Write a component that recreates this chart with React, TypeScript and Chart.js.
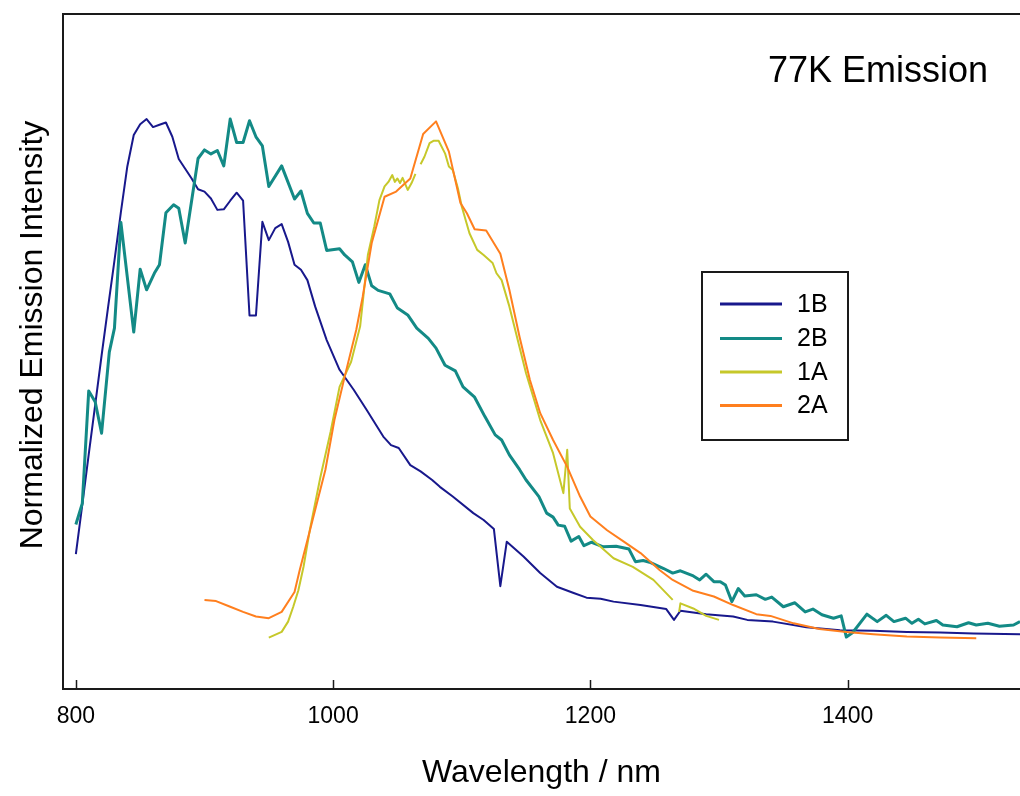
import { useEffect, useRef } from "react";
import { Chart, registerables } from "chart.js";

Chart.register(...registerables);

// ---------- data ----------
const xTickValues = [800, 1000, 1200, 1400];
const seriesNames = ["1B", "2B", "1A", "2A"];
const seriesColors = ["#18188c", "#138a86", "#c6c82a", "#ff7f1e"];
const chartTitle = "77K Emission";
const xTitle = "Wavelength / nm";
const yTitle = "Normalized Emission Intensity";

const b1Nm = [800, 805, 810, 815, 820, 825, 830, 835, 840, 845, 850, 855, 860, 865, 870, 875, 880, 885, 890, 895, 900, 905, 910, 915, 920, 925, 930, 935, 940, 945, 950, 955, 960, 965, 970, 975, 980, 986, 995, 1005, 1016, 1026, 1039, 1045, 1051, 1060, 1068, 1077, 1083, 1093, 1109, 1117, 1125, 1130, 1135, 1148, 1161, 1174, 1187, 1197, 1208, 1218, 1239, 1259, 1265, 1270, 1290, 1311, 1322, 1342, 1368, 1394, 1420, 1446, 1472, 1498, 1534];
const b1Val = [0.236, 0.323, 0.411, 0.497, 0.584, 0.668, 0.75, 0.835, 0.915, 0.97, 0.989, 0.998, 0.984, 0.988, 0.992, 0.967, 0.928, 0.911, 0.894, 0.875, 0.871, 0.859, 0.839, 0.84, 0.855, 0.869, 0.855, 0.654, 0.654, 0.818, 0.786, 0.807, 0.814, 0.783, 0.743, 0.734, 0.716, 0.67, 0.611, 0.559, 0.524, 0.489, 0.442, 0.427, 0.422, 0.392, 0.381, 0.366, 0.354, 0.337, 0.308, 0.296, 0.28, 0.18, 0.258, 0.232, 0.203, 0.179, 0.168, 0.16, 0.158, 0.153, 0.147, 0.14, 0.121, 0.137, 0.131, 0.127, 0.121, 0.118, 0.108, 0.103, 0.102, 0.1, 0.099, 0.097, 0.096];

const b2Nm = [800, 805, 810, 815, 820, 826, 830, 835, 845, 850, 855, 861, 865, 870, 876, 880, 885, 895, 900, 905, 910, 915, 920, 925, 930, 935, 940, 945, 950, 960, 970, 975, 980, 985, 990, 995, 1005, 1009, 1015, 1020, 1025, 1030, 1035, 1044, 1050, 1058, 1065, 1074, 1080, 1087, 1095, 1101, 1110, 1118, 1126, 1131, 1137, 1145, 1150, 1160, 1166, 1171, 1175, 1180, 1185, 1191, 1195, 1201, 1210, 1220, 1230, 1235, 1241, 1246, 1257, 1264, 1270, 1280, 1285, 1290, 1296, 1301, 1305, 1310, 1315, 1320, 1329, 1336, 1341, 1350, 1359, 1367, 1373, 1380, 1389, 1395, 1399, 1404, 1415, 1423, 1430, 1436, 1445, 1450, 1455, 1460, 1469, 1474, 1485, 1494, 1500, 1509, 1518, 1529, 1534];
const b2Val = [0.288, 0.325, 0.522, 0.503, 0.448, 0.59, 0.632, 0.817, 0.625, 0.735, 0.699, 0.728, 0.743, 0.834, 0.848, 0.842, 0.781, 0.929, 0.944, 0.937, 0.943, 0.916, 0.998, 0.957, 0.957, 0.995, 0.967, 0.951, 0.88, 0.916, 0.858, 0.872, 0.833, 0.816, 0.816, 0.768, 0.771, 0.76, 0.748, 0.712, 0.743, 0.706, 0.698, 0.692, 0.667, 0.655, 0.632, 0.614, 0.597, 0.567, 0.557, 0.529, 0.511, 0.477, 0.445, 0.436, 0.41, 0.384, 0.366, 0.337, 0.308, 0.301, 0.287, 0.285, 0.259, 0.267, 0.251, 0.257, 0.249, 0.25, 0.245, 0.223, 0.225, 0.222, 0.211, 0.203, 0.207, 0.198, 0.191, 0.201, 0.188, 0.188, 0.182, 0.153, 0.176, 0.163, 0.165, 0.157, 0.161, 0.144, 0.151, 0.135, 0.14, 0.13, 0.124, 0.128, 0.091, 0.099, 0.131, 0.118, 0.129, 0.118, 0.124, 0.115, 0.122, 0.114, 0.12, 0.112, 0.109, 0.116, 0.112, 0.115, 0.11, 0.112, 0.118];

const a1Nm = [950, 960, 965, 969, 973, 977, 982, 990, 998, 1005, 1014, 1021, 1027, 1032, 1036, 1040, 1043, 1046, 1048, 1050, 1052, 1054, 1058, 1061, 1064, 1066, 1068, 1071, 1075, 1078, 1082, 1087, 1090, 1093, 1097, 1100, 1106, 1112, 1117, 1124, 1127, 1131, 1137, 1150, 1161, 1171, 1179, 1182, 1184, 1192, 1202, 1218, 1233, 1249, 1264, 1267, 1269, 1270, 1280, 1290, 1300];
const a1Val = [0.09, 0.1, 0.118, 0.144, 0.173, 0.214, 0.28, 0.37, 0.45, 0.529, 0.573, 0.635, 0.76, 0.81, 0.856, 0.88, 0.888, 0.9, 0.888, 0.894, 0.886, 0.895, 0.874, 0.886, 0.902, null, 0.919, 0.932, 0.956, 0.96, 0.96, 0.938, 0.915, 0.909, 0.877, 0.845, 0.798, 0.769, 0.76, 0.746, 0.728, 0.716, 0.67, 0.553, 0.471, 0.413, 0.343, 0.419, 0.316, 0.284, 0.261, 0.229, 0.214, 0.191, 0.156, null, 0.135, 0.15, 0.141, 0.128, 0.121];

const a2Nm = [900, 909, 920, 930, 940, 950, 960, 970, 974, 982, 988, 994, 1001, 1009, 1018, 1023, 1030, 1040, 1049, 1060, 1070, 1080, 1090, 1099, 1104, 1110, 1119, 1130, 1137, 1145, 1153, 1161, 1171, 1182, 1192, 1200, 1213, 1226, 1239, 1254, 1264, 1280, 1296, 1311, 1329, 1340, 1358, 1378, 1399, 1420, 1446, 1472, 1500];
const a2Val = [0.156, 0.154, 0.144, 0.135, 0.127, 0.124, 0.135, 0.17, 0.208, 0.278, 0.331, 0.384, 0.471, 0.547, 0.629, 0.687, 0.781, 0.862, 0.871, 0.894, 0.972, 0.994, 0.941, 0.851, 0.833, 0.805, 0.803, 0.762, 0.699, 0.616, 0.541, 0.483, 0.436, 0.389, 0.337, 0.302, 0.278, 0.258, 0.238, 0.208, 0.191, 0.172, 0.162, 0.147, 0.131, 0.128, 0.115, 0.105, 0.1, 0.096, 0.092, 0.09, 0.089];

const xMin = 790;
const xMax = 1534;
const yMin = 0;
const yMax = 1.182;

const FONT = '"Liberation Sans", Arial, Helvetica, sans-serif';

function pts(xs: number[], ys: (number | null)[]) {
  return xs.map((x, i) => ({ x, y: ys[i] }));
}

const decorPlugin = {
  id: "decor",
  afterDraw(chart: any) {
    const { ctx, chartArea } = chart;
    const { left, top, right, bottom } = chartArea;
    const xs = chart.scales.x;
    ctx.save();
    // top frame
    ctx.strokeStyle = "#1a1a1a";
    ctx.lineWidth = 2;
    ctx.beginPath();
    ctx.moveTo(left - 1, top);
    ctx.lineTo(right, top);
    ctx.stroke();
    // inward ticks
    ctx.lineWidth = 1.5;
    xTickValues.forEach((v) => {
      const px = Math.round(xs.getPixelForValue(v)) + 0.5;
      ctx.beginPath();
      ctx.moveTo(px, bottom);
      ctx.lineTo(px, bottom - 9);
      ctx.stroke();
    });
    // chart title
    ctx.fillStyle = "#000";
    ctx.font = `36px ${FONT}`;
    ctx.textAlign = "right";
    ctx.textBaseline = "alphabetic";
    ctx.fillText(chartTitle, 988, 82);
    // y title
    ctx.save();
    ctx.translate(33, 335);
    ctx.rotate(-Math.PI / 2);
    ctx.textAlign = "center";
    ctx.textBaseline = "middle";
    ctx.font = `32px ${FONT}`;
    ctx.fillText(yTitle, 0, 0);
    ctx.restore();
    // legend
    const lx = 702, ly = 272, lw = 146, lh = 168;
    ctx.fillStyle = "#fff";
    ctx.fillRect(lx, ly, lw, lh);
    ctx.strokeStyle = "#1a1a1a";
    ctx.lineWidth = 2;
    ctx.strokeRect(lx, ly, lw, lh);
    const rowY = [304, 338.5, 372, 405.5];
    ctx.font = `25px ${FONT}`;
    ctx.textAlign = "left";
    ctx.textBaseline = "middle";
    seriesNames.forEach((name, i) => {
      ctx.strokeStyle = seriesColors[i];
      ctx.lineWidth = 3;
      ctx.beginPath();
      ctx.moveTo(720, rowY[i]);
      ctx.lineTo(782, rowY[i]);
      ctx.stroke();
      ctx.fillStyle = "#000";
      ctx.fillText(name, 797, rowY[i] + 1);
    });
    ctx.restore();
  },
};

export default function App() {
  const ref = useRef<HTMLCanvasElement | null>(null);
  useEffect(() => {
    if (!ref.current) return;
    const seriesData = [pts(b1Nm, b1Val), pts(b2Nm, b2Val), pts(a1Nm, a1Val), pts(a2Nm, a2Val)];
    const widths = [2, 3, 2, 2];
    const orders = [3, 2, 1, 0];
    const chart = new Chart(ref.current, {
      type: "line",
      data: {
        datasets: seriesNames.map((name, i) => ({
          label: name,
          data: seriesData[i],
          borderColor: seriesColors[i],
          backgroundColor: seriesColors[i],
          borderWidth: widths[i],
          pointRadius: 0,
          tension: 0,
          spanGaps: false,
          borderJoinStyle: "round" as const,
          order: orders[i],
        })),
      },
      options: {
        responsive: false,
        animation: false,
        devicePixelRatio: 1,
        layout: { padding: { top: 14, right: 0, left: 0, bottom: 0 } },
        plugins: {
          legend: { display: false },
          tooltip: { enabled: false },
          title: { display: false },
        },
        scales: {
          x: {
            type: "linear",
            min: xMin,
            max: xMax,
            afterBuildTicks: (s: any) => {
              s.ticks = xTickValues.map((v) => ({ value: v }));
            },
            afterFit: (s: any) => {
              s.height = 107;
            },
            ticks: {
              includeBounds: false,
              autoSkip: false,
              maxRotation: 0,
              padding: 14,
              color: "#000",
              font: { family: FONT, size: 23 },
              callback: (v: any) => String(v),
            },
            grid: { display: true, drawOnChartArea: false, drawTicks: false, color: "rgba(0,0,0,0)" },
            border: { display: true, color: "#1a1a1a", width: 2 },
            title: {
              display: true,
              text: xTitle,
              color: "#000",
              font: { family: FONT, size: 32 },
              padding: { top: 0, bottom: 4 },
            },
          },
          y: {
            type: "linear",
            min: yMin,
            max: yMax,
            afterFit: (s: any) => {
              s.width = 63;
            },
            ticks: { display: false },
            grid: { display: true, drawOnChartArea: false, drawTicks: false, color: "rgba(0,0,0,0)" },
            border: { display: true, color: "#1a1a1a", width: 2 },
          },
        },
      },
      plugins: [decorPlugin],
    });
    return () => chart.destroy();
  }, []);

  return (
    <div style={{ position: "absolute", left: 0, top: 0, width: 1020, height: 796, background: "#fff" }}>
      <canvas ref={ref} width={1020} height={796} style={{ display: "block", width: 1020, height: 796 }} />
    </div>
  );
}
